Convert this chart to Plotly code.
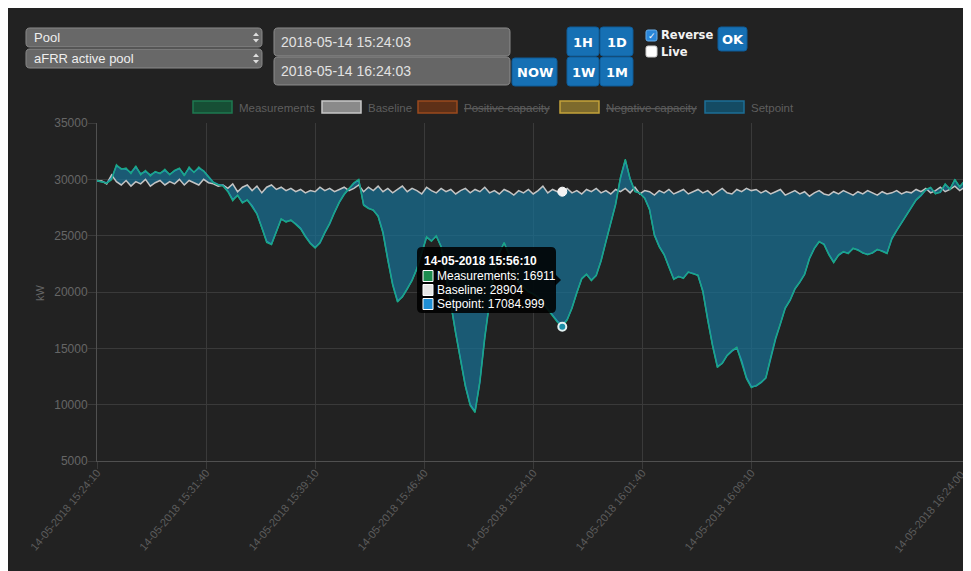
import pandas as pd
import plotly.graph_objects as go

# ---------------- data ----------------
times = list(pd.date_range("2018-05-14 15:24:10", "2018-05-14 16:23:50", freq="20s")) + [pd.Timestamp("2018-05-14 16:24:00")]

measurements = [
    29900, 29750, 29650, 29950, 31300, 30900, 31000, 30500, 31200, 30400,
    30800, 30300, 30700, 30500, 30900, 30400, 30800, 31000, 30300, 31100,
    30600, 31100, 30700, 30200, 29700, 29500, 29400, 28900, 28100, 28600,
    27900, 28200, 27600, 26900, 25700, 24400, 24200, 25400, 26500, 26200,
    26400, 26000, 25600, 24900, 24300, 23900, 24400, 25300, 26100, 27100,
    28000, 28700, 29200, 29700, 30000, 27700, 27400, 27300, 26700, 25200,
    22800, 20600, 19100, 19600, 20300, 21000, 22100, 23600, 24900, 24500,
    25000, 24000, 21600, 18900, 16300, 13800, 11600, 9900, 9300, 12100,
    16000, 19200, 21900, 23500, 24400, 23300, 21600, 20800, 20400, 20000,
    19800, 19500, 19000, 18400, 17900, 17300, 16911, 17500, 18600, 20000,
    21200, 21600, 21000, 21500, 22800, 24500, 26200, 27800, 30200, 31800,
    30000, 28900, 28800, 28300, 27300, 25000, 24000, 23300, 22200, 21100,
    21400, 21200, 21800, 21600, 21500, 20000, 17500, 15200, 13300, 13700,
    14400, 14800, 15100, 13800, 12300, 11500, 11700, 12000, 12400, 14200,
    15900, 17200, 18600, 19300, 20300, 20900, 21600, 23000, 23900, 24500,
    24200, 23300, 22600, 23300, 23600, 23400, 23900, 23700, 23500, 23300,
    23500, 23800, 23600, 23400, 24800, 25500, 26200, 26900, 27600, 28200,
    28600, 29100, 29300, 28700, 28900, 29600, 29100, 30000, 29300, 29900,
    30000,
]

setpoint = [
    29850, 29800, 29700, 30100, 31200, 30950, 30900, 30600, 31100, 30500,
    30700, 30400, 30650, 30550, 30800, 30450, 30750, 30950, 30400, 31000,
    30650, 31000, 30750, 30250, 29750, 29550, 29450, 28950, 28200, 28550,
    27950, 28150, 27650, 26950, 25800, 24500, 24250, 25350, 26450, 26250,
    26350, 26050, 25650, 24950, 24350, 23950, 24350, 25250, 26050, 27050,
    27950, 28650, 29150, 29650, 29950, 27750, 27450, 27250, 26750, 25300,
    22900, 20700, 19200, 19550, 20250, 21050, 22050, 23550, 24850, 24550,
    24950, 24050, 21700, 19000, 16400, 13900, 11700, 10000, 9400, 12000,
    15900, 19100, 21850, 23450, 24350, 23350, 21650, 20850, 20450, 20050,
    19850, 19550, 19050, 18450, 17950, 17400, 17084.999, 17550, 18550, 19950,
    21150, 21550, 21050, 21450, 22750, 24450, 26150, 27750, 30100, 31700,
    30050, 28950, 28750, 28350, 27350, 25100, 24050, 23350, 22250, 21150,
    21350, 21250, 21750, 21650, 21450, 20100, 17600, 15300, 13400, 13650,
    14350, 14750, 15050, 13900, 12400, 11600, 11650, 11950, 12350, 14100,
    15800, 17150, 18550, 19250, 20250, 20850, 21550, 22950, 23850, 24450,
    24250, 23350, 22650, 23250, 23550, 23450, 23850, 23750, 23450, 23350,
    23450, 23750, 23650, 23450, 24700, 25450, 26150, 26850, 27550, 28150,
    28550, 29050, 29250, 28750, 28850, 29550, 29150, 29950, 29350, 29850,
    29950,
]

baseline = [
    29900, 29850, 29600, 30400, 29800, 29500, 29900, 29400, 29800, 29600,
    30000, 29400, 29700, 29900, 29500, 29800, 29600, 30000, 29500, 29900,
    29700, 29500, 30000, 29700, 29600, 29400, 29500, 29200, 29600, 28900,
    29300, 29500, 29000, 29400, 28800, 29300, 29500, 29100, 29300, 29000,
    29200, 28900, 29100, 28800, 29000, 28900, 29300, 29000, 29200, 28900,
    29100, 29300, 29000, 29200, 29500, 28900, 29300, 29000, 29400, 28900,
    29200, 28800, 29100, 29400, 28900, 29200, 29000, 28700, 29300, 29000,
    28800, 29200, 28900, 29100, 28700, 29000, 29200, 28800, 29100, 28900,
    29300, 28800, 29000, 28700, 29100, 28900, 28600, 29000, 28800, 29100,
    28700, 29000, 29400, 28800, 29100, 28900, 28904, 29200, 28800, 29000,
    28700, 29100, 28900, 29200, 28800, 29000, 28700, 29100, 28900, 29200,
    28800, 29300, 28700, 29000, 28900, 28600, 29000, 28800, 29100, 28700,
    28900, 29100, 28700, 28900, 29100, 28800, 29000, 28600, 28900, 29200,
    28800, 28700, 29100, 28900, 29200, 29000, 29100, 28800, 29000, 28700,
    28900, 29100, 28600, 28800, 29000, 28700, 28900, 28500, 28800, 29000,
    28700, 28600, 28900, 28700, 29000, 28800, 28600, 28900, 28700, 29000,
    28800, 28600, 28900, 28700, 28800, 29000, 28700, 28900, 28800, 29100,
    28900, 29200, 28800, 29000, 29300, 28900, 29100, 29400, 29000, 29300,
    29100,
]

tick_times = ["2018-05-14 15:24:10", "2018-05-14 15:31:40", "2018-05-14 15:39:10",
              "2018-05-14 15:46:40", "2018-05-14 15:54:10", "2018-05-14 16:01:40",
              "2018-05-14 16:09:10", "2018-05-14 16:24:00"]
tick_labels = ["14-05-2018 15:24:10", "14-05-2018 15:31:40", "14-05-2018 15:39:10",
               "14-05-2018 15:46:40", "14-05-2018 15:54:10", "14-05-2018 16:01:40",
               "14-05-2018 16:09:10", "14-05-2018 16:24:00"]
y_ticks = [5000, 10000, 15000, 20000, 25000, 30000, 35000]

legend_names = ["Measurements", "Baseline", "Positive capacity", "Negative capacity", "Setpoint"]
legend_hidden = [False, False, True, True, False]

hover_index = 96

# ---------------- helpers (screen pixel -> paper) ----------------
OFF = 8                      # page body margin
W, H = 963, 563
L, R, T, B = 89, 4, 115, 110
PW, PH = W - L - R, H - T - B


def X(px):
    return (px - OFF - L) / PW


def Y(py):
    return (H - B - (py - OFF)) / PH


def rrect(x0, y0, x1, y1, r):
    pts = [("M", x0 + r, y0), ("L", x1 - r, y0), ("Q", x1, y0, x1, y0 + r),
           ("L", x1, y1 - r), ("Q", x1, y1, x1 - r, y1), ("L", x0 + r, y1),
           ("Q", x0, y1, x0, y1 - r), ("L", x0, y0 + r), ("Q", x0, y0, x0 + r, y0)]
    s = ""
    for p in pts:
        if p[0] == "Q":
            s += f"Q{X(p[1]):.5f},{Y(p[2]):.5f} {X(p[3]):.5f},{Y(p[4]):.5f} "
        else:
            s += f"{p[0]}{X(p[1]):.5f},{Y(p[2]):.5f} "
    return s + "Z"


shapes = []
annotations = []


def box(x0, y0, x1, y1, fill, line, r=4, lw=1, layer="above"):
    shapes.append(dict(type="path", path=rrect(x0, y0, x1, y1, r), xref="paper", yref="paper",
                       fillcolor=fill, line=dict(color=line, width=lw), layer=layer))


def rect(x0, y0, x1, y1, fill, line=None, lw=1, layer="above"):
    shapes.append(dict(type="rect", x0=X(x0), x1=X(x1), y0=Y(y1), y1=Y(y0), xref="paper", yref="paper",
                       fillcolor=fill, line=dict(color=line or fill, width=lw if line else 0), layer=layer))


def text(x, y, s, size=12, color="#e0e0e0", family="Liberation Sans, Arial", xanchor="left", angle=0,
         yanchor="middle"):
    annotations.append(dict(x=X(x), y=Y(y), xref="paper", yref="paper", text=s, showarrow=False,
                            xanchor=xanchor, yanchor=yanchor, textangle=angle,
                            font=dict(size=size, color=color, family=family)))


# ---------------- top controls ----------------
for (y0, y1, label) in [(28, 47, "Pool"), (49, 68, "aFRR active pool")]:
    box(26, y0, 262, y1, "#686868", "#8a8a8a", r=4)
    text(32, (y0 + y1) / 2, label, size=13, color="#eeeeee")
    cy = (y0 + y1) / 2
    shapes.append(dict(type="path", xref="paper", yref="paper",
                       path=f"M{X(253):.5f},{Y(cy-1.5):.5f} L{X(259):.5f},{Y(cy-1.5):.5f} L{X(256):.5f},{Y(cy-5):.5f} Z",
                       fillcolor="#dddddd", line=dict(width=0)))
    shapes.append(dict(type="path", xref="paper", yref="paper",
                       path=f"M{X(253):.5f},{Y(cy+1.5):.5f} L{X(259):.5f},{Y(cy+1.5):.5f} L{X(256):.5f},{Y(cy+5):.5f} Z",
                       fillcolor="#dddddd", line=dict(width=0)))

for (y0, y1, label) in [(28, 56, "2018-05-14 15:24:03"), (57, 85, "2018-05-14 16:24:03")]:
    box(274, y0, 510, y1, "#666666", "#8c8c8c", r=4)
    text(279, (y0 + y1) / 2, label, size=14, color="#e2e2e2")

btn_font = "DejaVu Sans, Verdana"
for (x0, y0, x1, y1, label) in [(512, 58, 557, 86, "NOW"), (567, 27, 599, 56, "1H"), (600, 27, 633, 56, "1D"),
                                (567, 57, 599, 86, "1W"), (600, 57, 633, 86, "1M"), (718, 27, 747, 51, "OK")]:
    box(x0, y0, x1, y1, "#1670b4", "#0e5c98", r=3)
    text((x0 + x1) / 2, (y0 + y1) / 2 + 1, f"<b>{label}</b>", size=13, color="#ffffff", family=btn_font,
         xanchor="center")

box(646, 30, 657, 41, "#2a86da", "#6aaee8", r=2)
text(651.5, 35.5, "<b>✓</b>", size=9, color="#ffffff", family="DejaVu Sans", xanchor="center")
text(659, 35, "<b>Reverse</b>", size=11.5, color="#f2f2f2", family=btn_font)
box(646, 46, 657, 57, "#ffffff", "#cccccc", r=2)
text(659, 51.5, "<b>Live</b>", size=11.5, color="#f2f2f2", family=btn_font)

# ---------------- legend ----------------
legend_boxes = [(193, 232), (322, 361), (418, 457), (560, 599), (705, 744)]
legend_fill = ["#164f35", "#8a8a8a", "#5e3017", "#7d6a2c", "#144b63"]
legend_line = ["#1e7a50", "#c8c8c8", "#9a4a1e", "#c4a23a", "#1d6f96"]
for i, name in enumerate(legend_names):
    x0, x1 = legend_boxes[i]
    rect(x0, 101, x1, 113, legend_fill[i], legend_line[i], lw=1.5)
    label = f"<s>{name}</s>" if legend_hidden[i] else name
    text(x1 + 5, 107.5, label, size=11.5, color="#5e5e5e")

# y-axis title
text(40, 292, "kW", size=11, color="#666666", xanchor="center", angle=-90)

# last x tick label drawn as annotation so it stays inside the page
axis_ticktext = tick_labels[:-1] + [""]
text(969, 466, tick_labels[-1], size=11, color="#5c5c5c", xanchor="right", yanchor="top", angle=-50)

# ---------------- tooltip ----------------
ht = times[hover_index]
box(417, 247, 556, 313, "rgba(0,0,0,0.88)", "rgba(0,0,0,0.88)", r=5, lw=0)
shapes.append(dict(type="path", xref="paper", yref="paper",
                   path=f"M{X(555):.5f},{Y(274):.5f} L{X(561):.5f},{Y(280):.5f} L{X(555):.5f},{Y(286):.5f} Z",
                   fillcolor="rgba(0,0,0,0.88)", line=dict(width=0)))
text(422, 261, f"<b>{ht.strftime('%d-%m-%Y %H:%M:%S')}</b>", size=12, color="#ffffff")
tip_rows = [("Measurements", measurements[hover_index], "#1c8c4e"),
            ("Baseline", baseline[hover_index], "#e6e6e6"),
            ("Setpoint", setpoint[hover_index], "#1f8ed4")]
for k, (nm, val, col) in enumerate(tip_rows):
    yy = 276 + k * 14
    rect(423, yy - 5.5, 433, yy + 5.5, col, "#ffffff", lw=1)
    text(435, yy, f"{nm}: {val}", size=12, color="#ffffff")

# ---------------- traces ----------------
fig = go.Figure()
fig.add_trace(go.Scatter(x=times, y=baseline, mode="lines", name="Baseline",
                         line=dict(color="#c4c4c4", width=1.5)))
fig.add_trace(go.Scatter(x=times, y=setpoint, mode="lines", name="Setpoint", fill="tonexty",
                         fillcolor="rgba(24,110,146,0.74)", line=dict(color="#2596bf", width=1.5)))
fig.add_trace(go.Scatter(x=times, y=measurements, mode="lines", name="Measurements",
                         line=dict(color="#1aa884", width=1.3)))
fig.add_trace(go.Scatter(x=[times[hover_index]], y=[baseline[hover_index]], mode="markers",
                         marker=dict(size=9, color="#f2f2f2", line=dict(color="#ffffff", width=1))))
fig.add_trace(go.Scatter(x=[times[hover_index]], y=[measurements[hover_index]], mode="markers",
                         marker=dict(size=8, color="#1c8fa8", line=dict(color="#e4f2f2", width=2))))

fig.update_layout(
    width=W, height=H, margin=dict(l=L, r=R, t=T, b=B),
    paper_bgcolor="#222222", plot_bgcolor="#222222",
    showlegend=False, hovermode=False,
    font=dict(family="Liberation Sans, Arial", color="#666666", size=12),
    shapes=shapes, annotations=annotations,
    xaxis=dict(type="date", range=["2018-05-14 15:24:09.9", "2018-05-14 16:24:00.1"],
               tickvals=tick_times, ticktext=axis_ticktext, ticklabelstandoff=-7,
               tickangle=-50, tickfont=dict(size=11, color="#5c5c5c"), showgrid=True, gridcolor="#3a3a3a",
               gridwidth=1, ticks="outside", ticklen=7, tickcolor="#3a3a3a", showline=True,
               linecolor="#505050", zeroline=False),
    yaxis=dict(range=[5000, 35000], tickvals=y_ticks, tickformat="d", tickfont=dict(size=12, color="#666666"),
               ticklabelstandoff=-2,
               showgrid=True, gridcolor="#3a3a3a", gridwidth=1, ticks="outside", ticklen=8,
               tickcolor="#3a3a3a", showline=True, linecolor="#505050", zeroline=False),
)

fig.write_html("out.html", config={"displayModeBar": False})
